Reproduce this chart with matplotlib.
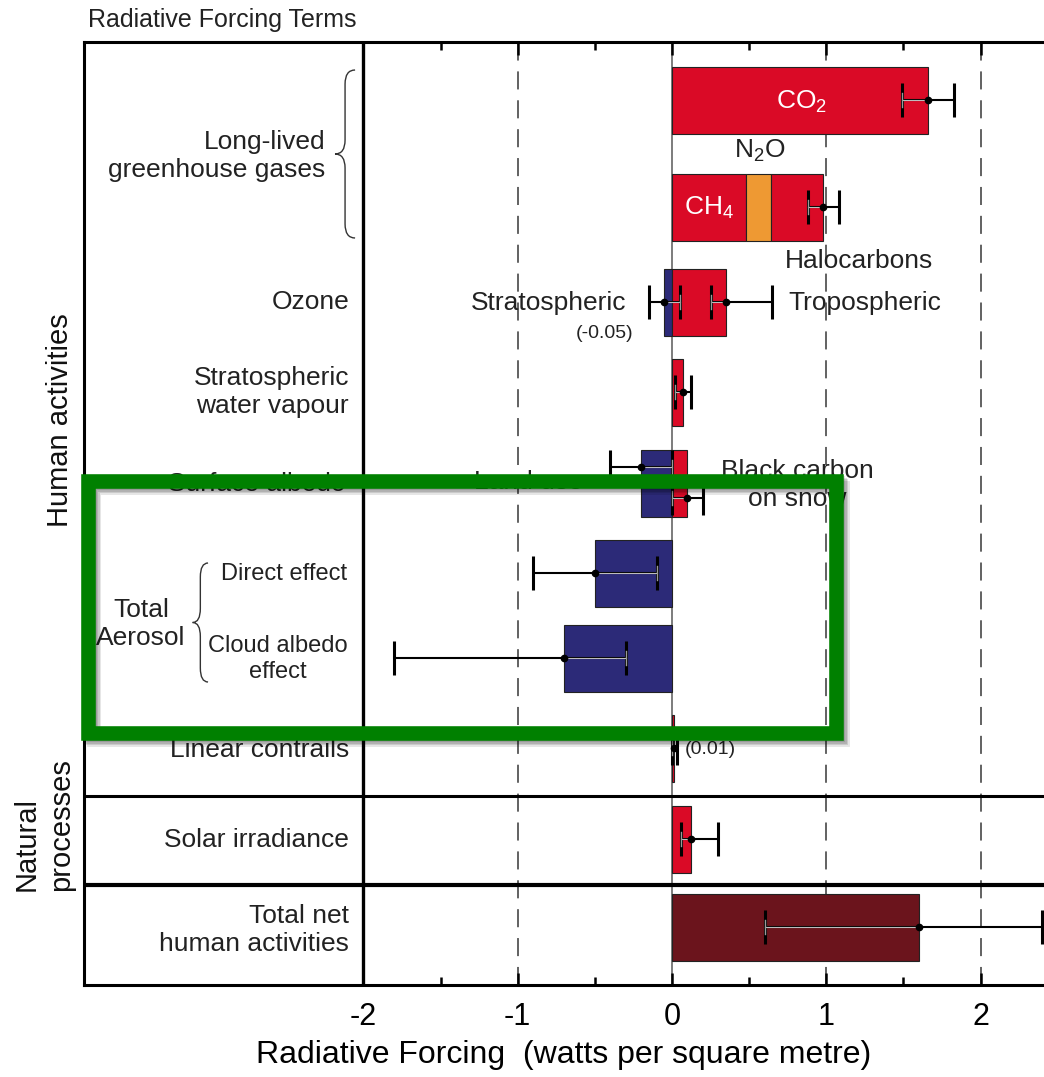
import matplotlib
matplotlib.use("Agg")
import matplotlib.pyplot as plt
from matplotlib.patches import Rectangle, PathPatch
from matplotlib.path import Path

plt.rcParams['font.family'] = ['Liberation Sans', 'DejaVu Sans']
plt.rcParams['mathtext.fontset'] = 'custom'
plt.rcParams['mathtext.rm'] = 'Liberation Sans'
plt.rcParams['mathtext.default'] = 'regular'
plt.rcParams['axes.unicode_minus'] = False

# ---------------- data (W m-2) ----------------
# bar segments: term, value, row
terms = ["CO2", "CH4", "N2O", "Halocarbons", "Strat O3", "Trop O3", "Strat H2O",
         "Land use", "BC snow", "Direct", "Cloud albedo", "Contrails", "Solar", "Total net"]
values = [1.66, 0.48, 0.16, 0.34, -0.05, 0.35, 0.07,
          -0.20, 0.10, -0.50, -0.70, 0.01, 0.12, 1.60]
kinds = ["warm", "warm", "n2o", "warm", "cool", "warm", "warm",
         "cool", "warm", "cool", "cool", "warm", "warm", "net"]
bar_row = [0, 1, 1, 1, 2, 2, 3, 4, 4, 5, 6, 7, 8, 9]

# uncertainty ranges
err_terms = ["CO2", "LLGHG", "Strat O3", "Trop O3", "Strat H2O", "Land use", "BC snow",
             "Direct", "Cloud albedo", "Contrails", "Solar", "Total net"]
err_mid = [1.66, 0.98, -0.05, 0.35, 0.07, -0.20, 0.10, -0.50, -0.70, 0.01, 0.12, 1.60]
err_lo = [1.49, 0.88, -0.15, 0.25, 0.02, -0.40, 0.00, -0.90, -1.80, 0.003, 0.06, 0.60]
err_hi = [1.83, 1.08, 0.05, 0.65, 0.12, 0.00, 0.20, -0.10, -0.30, 0.03, 0.30, 2.40]
err_row = [0, 1, 2, 2, 3, 4, 4, 5, 6, 7, 8, 9]

row_labels = ["Long-lived\ngreenhouse gases", "Ozone", "Stratospheric\nwater vapour",
              "Surface albedo", "Direct effect", "Cloud albedo\neffect",
              "Linear contrails", "Solar irradiance", "Total net\nhuman activities"]

xticks = [-2, -1, 0, 1, 2]
xminor = [-1.5, -0.5, 0.5, 1.5]

# ---------------- layout ----------------
row_y = [58, 165, 260, 350, 441, 531, 616, 706, 797, 885]   # from frame top, px
bar_h = 67
err_dy = {"Land use": -16, "BC snow": 15}
colors = {"warm": "#DA0A26", "cool": "#2C2A78", "n2o": "#EE9933", "net": "#6B141C"}

W, H = 1044, 1077
fig = plt.figure(figsize=(W / 100, H / 100), dpi=100)
ax = fig.add_axes([84 / W, 92 / H, 960 / W, 943 / H])
ax.set_xlim(-3.811, 2.411)
ax.set_ylim(943, 0)

# grid lines
ax.axvline(-2, color='black', lw=2.4, zorder=1)
ax.axvline(0, color='#666666', lw=1.2, zorder=1)
for xv in [-1, 1, 2]:
    ax.axvline(xv, color='#555555', lw=1.3, dashes=(10, 6), zorder=1)
ax.axhline(754, color='black', lw=2.2, zorder=1)
ax.axhline(843, color='black', lw=3.0, zorder=1)

# stacked bars (positive parts stack right of zero, negative parts left of zero)
lefts = {}
row_ext = {}
for t, v, k, r in zip(terms, values, kinds, bar_row):
    side = '+' if v >= 0 else '-'
    left = lefts.get((r, side), 0.0)
    lefts[(r, side)] = left + v
    ax.barh(row_y[r], v, left=left, height=bar_h, color=colors[k],
            edgecolor='#222222', lw=0.8, zorder=3)
    lo, hi = row_ext.get(r, (0.0, 0.0))
    row_ext[r] = (min(lo, left, left + v), max(hi, left, left + v))

# error bars
cap = 12
cap_h = cap * 100 / 72
for t, m, lo, hi, r in zip(err_terms, err_mid, err_lo, err_hi, err_row):
    y = row_y[r] + err_dy.get(t, 0)
    ax.errorbar(m, y, xerr=[[m - lo], [hi - m]], fmt='none', ecolor='black',
                elinewidth=1.5, capsize=cap, capthick=2.2, zorder=4)
    e0, e1 = row_ext[r]
    a, b = max(lo, e0), min(hi, e1)
    if b > a:
        ax.plot([a, b], [y, y], color='#bdbdbd', lw=0.8, zorder=5)
    for c in (lo, hi):
        if e0 < c < e1:
            ax.plot([c, c], [y - cap_h / 2 + 1, y + cap_h / 2 - 1], color='#9a9a9a',
                    lw=1.0, zorder=5)
    ax.plot(m, y, 'o', color='black', ms=4.5, zorder=6)

# row labels (left panel)
lab_x = [-2.249, -2.093, -2.093, -2.119, -2.108, -2.553, -2.093, -2.093, -2.093]
lab_y = [114, 260, 350, 442, 532, 617, 708, 798, 888]
lab_fs = [19, 19, 19, 19, 17, 17, 19, 19, 19]
lab_ha = ['right'] * 5 + ['center'] + ['right'] * 3
for s, x, y, fs, ha in zip(row_labels, lab_x, lab_y, lab_fs, lab_ha):
    ax.text(x, y, s, ha=ha, va='center', fontsize=fs, multialignment=ha,
            color='#222222', zorder=2)
ax.text(-3.441, 582, "Total\nAerosol", ha='center', va='center', fontsize=19,
        multialignment='center', color='#222222')


def brace(xr, y0, y1, w, c=14):
    xm, xl, ym = xr - w / 2, xr - w, (y0 + y1) / 2
    verts = [(xr, y0), (xm, y0), (xm, y0 + c), (xm, ym - c), (xm, ym), (xl, ym),
             (xm, ym), (xm, ym + c), (xm, y1 - c), (xm, y1), (xr, y1)]
    codes = [Path.MOVETO, Path.CURVE3, Path.CURVE3, Path.LINETO, Path.CURVE3, Path.CURVE3,
             Path.CURVE3, Path.CURVE3, Path.LINETO, Path.CURVE3, Path.CURVE3]
    ax.add_patch(PathPatch(Path(verts, codes), fill=False, lw=1.0, color='#333333'))


brace(-2.054, 28, 196, 0.13)
brace(-3.007, 521, 640, 0.10)

# in-plot annotations
ax.text(0.842, 67, "CO$_2$", color='white', fontsize=19, ha='center', va='baseline')
ax.text(0.240, 173, "CH$_4$", color='white', fontsize=19, ha='center', va='baseline')
ax.text(0.570, 116, "N$_2$O", color='#222222', fontsize=19, ha='center', va='baseline')
ax.text(1.210, 226, "Halocarbons", color='#222222', fontsize=19, ha='center', va='baseline')
ax.text(-0.294, 268, "Stratospheric", color='#222222', fontsize=19, ha='right', va='baseline')
ax.text(-0.440, 292, "(-0.05)", color='#222222', fontsize=14, ha='center', va='center')
ax.text(0.755, 268, "Tropospheric", color='#222222', fontsize=19, ha='left', va='baseline')
ax.text(-0.577, 440, "Land use", color='#222222', fontsize=19, ha='right', va='center')
ax.text(0.814, 443, "Black carbon\non snow", color='#222222', fontsize=19, ha='center',
        va='center', multialignment='center')
ax.text(0.085, 708, "(0.01)", color='#222222', fontsize=14, ha='left', va='center')

# axes styling
for s in ['left', 'top', 'bottom']:
    ax.spines[s].set_linewidth(2.2)
ax.spines['right'].set_visible(False)
ax.set_yticks([])
ax.set_xticks(xticks)
ax.set_xticks(xminor, minor=True)
ax.tick_params(axis='x', which='both', direction='in', top=True, bottom=True,
               labeltop=False, width=1.8, labelsize=22, pad=12)
ax.tick_params(axis='x', which='major', length=9)
ax.tick_params(axis='x', which='minor', length=6)
ax.set_xlabel("Radiative Forcing  (watts per square metre)", fontsize=23, labelpad=6)

fig.text(88 / W, 1 - 20 / H, "Radiative Forcing Terms", fontsize=18, ha='left',
         va='center', color='#222222')
fig.text(60 / W, 1 - 420 / H, "Human activities", fontsize=21, rotation=90,
         ha='center', va='center', color='#111111')
fig.text(44 / W, 1 - 825 / H, "Natural\nprocesses", fontsize=21, rotation=90,
         ha='center', va='center', multialignment='left', linespacing=1.3,
         color='#111111')

# green highlight box with a soft shadow
bx0, by0, bx1, by1 = 87.5, 481, 836, 733
for i, al in enumerate([0.12, 0.12, 0.12, 0.1]):
    d = 2 + i * 1.5
    fig.patches.append(Rectangle(((bx0 + d) / W, 1 - (by1 + d) / H), (bx1 - bx0) / W,
                                 (by1 - by0) / H, transform=fig.transFigure,
                                 fill=False, lw=10, edgecolor='black', alpha=al,
                                 zorder=9))
fig.patches.append(Rectangle((bx0 / W, 1 - by1 / H), (bx1 - bx0) / W, (by1 - by0) / H,
                             transform=fig.transFigure, fill=False, lw=10.5,
                             edgecolor='#008000', zorder=10))

fig.savefig("out.png", dpi=100)
